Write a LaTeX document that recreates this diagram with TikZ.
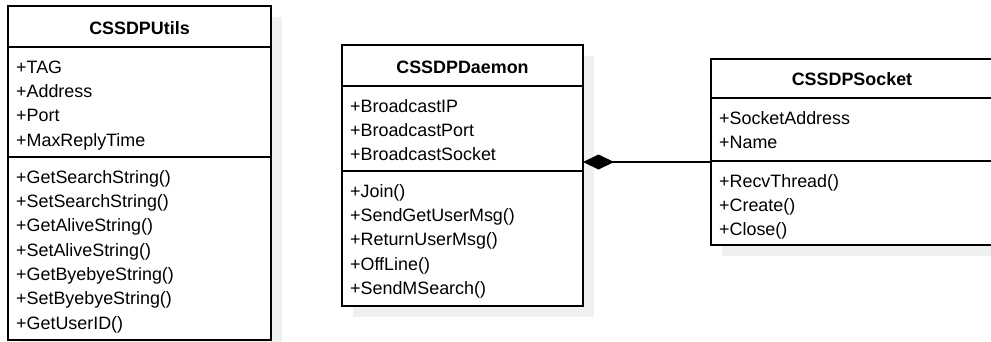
\documentclass[tikz,border=0pt]{standalone}
\usepackage{fontspec}
\setmainfont{Liberation Sans}
\usetikzlibrary{arrows.meta}
\definecolor{shadowgray}{HTML}{EFF0F0}
\begin{document}
\begin{tikzpicture}[x=1pt,y=-1pt,
  classbox/.style={draw=black,line width=2pt,fill=white,anchor=north west,inner sep=0pt,outer sep=0pt},
  shadowbox/.style={fill=shadowgray,draw=none,anchor=north west,inner sep=0pt,outer sep=0pt},
  sepline/.style={line width=1.5pt},
  title/.style={font=\fontsize{17.9}{24}\selectfont\bfseries,anchor=base,inner sep=0pt},
  member/.style={font=\fontsize{17.9}{24}\selectfont,anchor=base west,inner sep=0pt},
  comp/.style={line width=2pt,{Diamond[length=31pt,width=15pt,fill=black]}-}]
\useasboundingbox (0,0) rectangle (991,341);
% ---------- CSSDPUtils ----------
\node[shadowbox,minimum width=263pt,minimum height=334pt] (utilsshadow) at (19,17) {};
\node[classbox,minimum width=263pt,minimum height=334pt] (utils) at (8,6) {};
\draw[sepline] (8,47) -- (271,47);
\draw[sepline] (8,157) -- (271,157);
\node[title] (utilsT) at (139.5,34) {CSSDPUtils};
\node[member] (u1) at (16,73) {+TAG};
\node[member] (u2) at (16,97.3) {+Address};
\node[member] (u3) at (16,121.6) {+Port};
\node[member] (u4) at (16,146) {+MaxReplyTime};
\node[member] (u5) at (16,183) {+GetSearchString()};
\node[member] (u6) at (16,207.3) {+SetSearchString()};
\node[member] (u7) at (16,231.6) {+GetAliveString()};
\node[member] (u8) at (16,256) {+SetAliveString()};
\node[member] (u9) at (16,280.3) {+GetByebyeString()};
\node[member] (u10) at (16,304.6) {+SetByebyeString()};
\node[member] (u11) at (16,329) {+GetUserID()};
% ---------- CSSDPDaemon ----------
\node[shadowbox,minimum width=241pt,minimum height=261pt] (daemonshadow) at (353,56) {};
\node[classbox,minimum width=241pt,minimum height=261pt] (daemon) at (342,45) {};
\draw[sepline] (342,86) -- (583,86);
\draw[sepline] (342,171) -- (583,171);
\node[title] (daemonT) at (462.5,73) {CSSDPDaemon};
\node[member] (d1) at (350,112) {+BroadcastIP};
\node[member] (d2) at (350,136) {+BroadcastPort};
\node[member] (d3) at (350,160) {+BroadcastSocket};
\node[member] (d4) at (350,197) {+Join()};
\node[member] (d5) at (350,221.3) {+SendGetUserMsg()};
\node[member] (d6) at (350,245.6) {+ReturnUserMsg()};
\node[member] (d7) at (350,270) {+OffLine()};
\node[member] (d8) at (350,294.3) {+SendMSearch()};
% ---------- CSSDPSocket ----------
\node[shadowbox,minimum width=282pt,minimum height=186pt] (socketshadow) at (722,70) {};
\node[classbox,minimum width=282pt,minimum height=186pt] (socket) at (711,59) {};
\draw[sepline] (711,98) -- (993,98);
\draw[sepline] (711,161) -- (993,161);
\node[title] (socketT) at (852,85) {CSSDPSocket};
\node[member] (s1) at (719,124) {+SocketAddress};
\node[member] (s2) at (719,148.3) {+Name};
\node[member] (s3) at (719,187) {+RecvThread()};
\node[member] (s4) at (719,211.3) {+Create()};
\node[member] (s5) at (719,235.6) {+Close()};
% ---------- composition ----------
\coordinate (link) at (650,162);
\draw[comp] (daemon.east |- link) -- (socket.west |- link);
\end{tikzpicture}
\end{document}
